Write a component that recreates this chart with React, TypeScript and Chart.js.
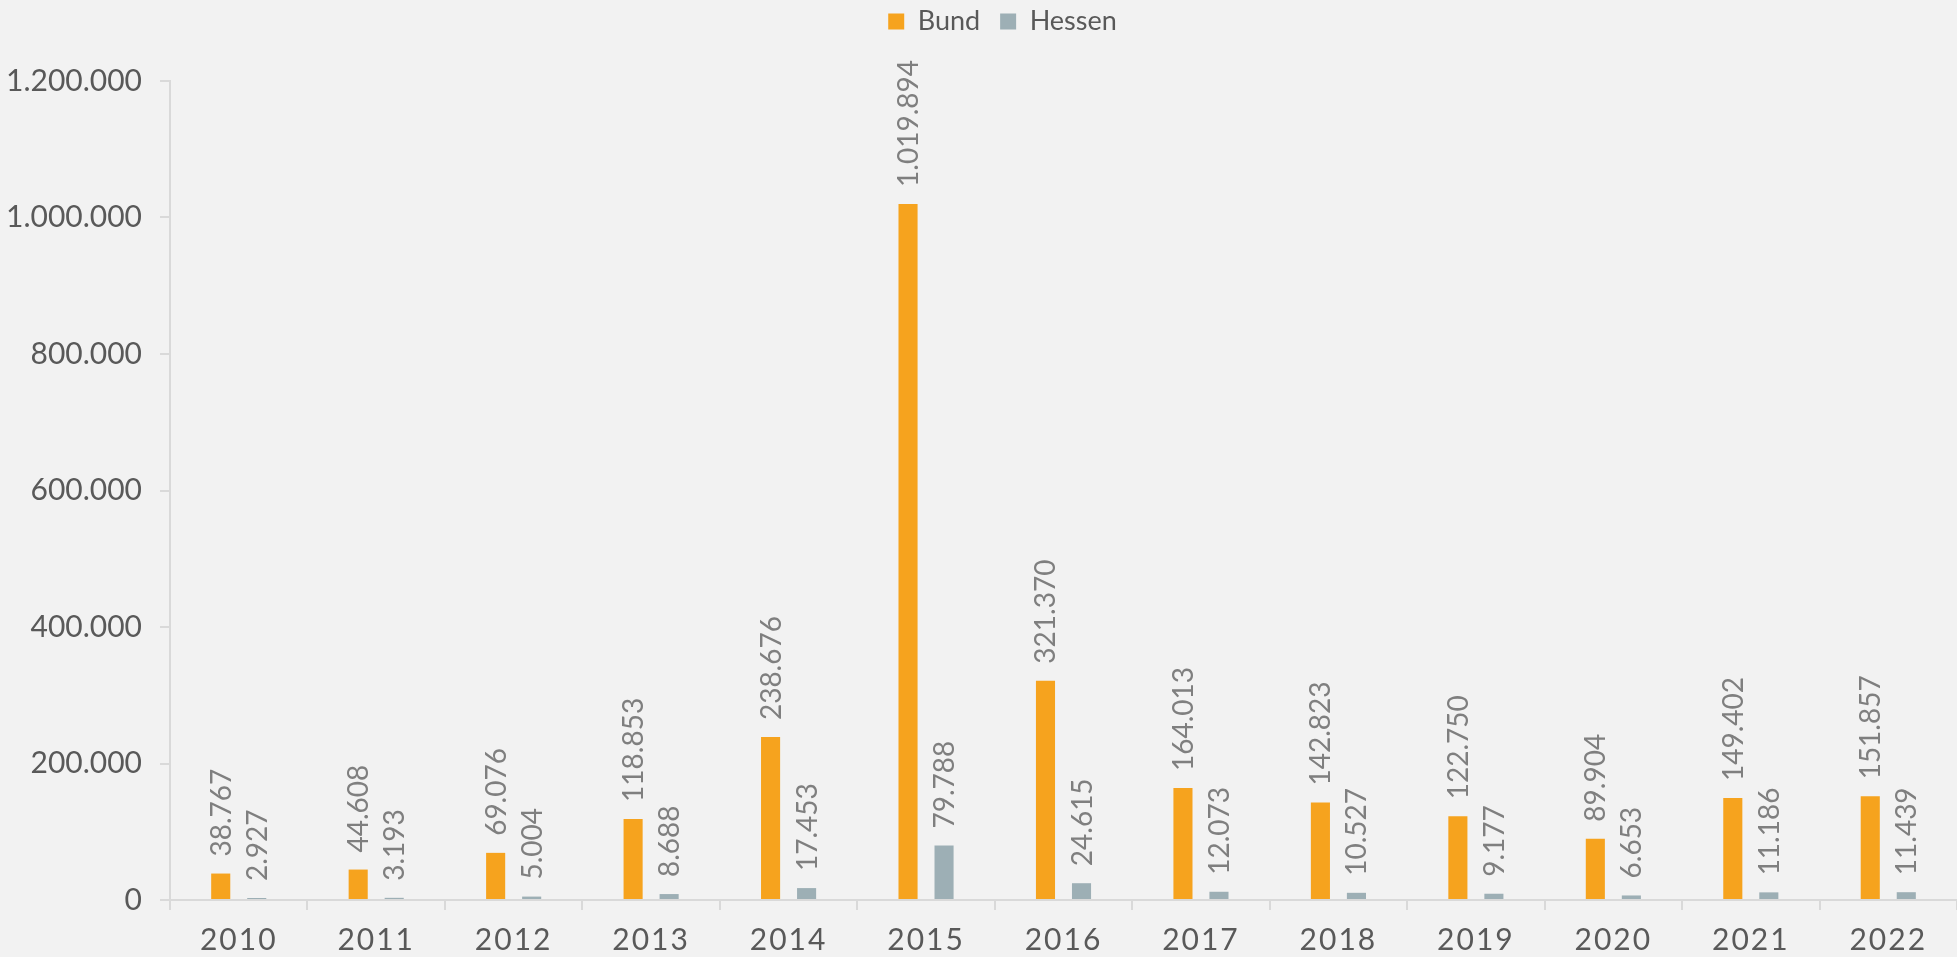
import React, { useEffect, useRef } from 'react';
import { Chart, registerables } from 'chart.js';

Chart.register(...registerables);

const years = ['2010', '2011', '2012', '2013', '2014', '2015', '2016', '2017', '2018', '2019', '2020', '2021', '2022'];
const bund = [38767, 44608, 69076, 118853, 238676, 1019894, 321370, 164013, 142823, 122750, 89904, 149402, 151857];
const hessen = [2927, 3193, 5004, 8688, 17453, 79788, 24615, 12073, 10527, 9177, 6653, 11186, 11439];
const seriesNames = ['Bund', 'Hessen'];
const yMin = 0;
const yMax = 1200000;
const yStep = 200000;

const fmt = (v: number) => String(Math.round(v)).replace(/\B(?=(\d{3})+(?!\d))/g, '.');

const FONT = 'Lato';

const valueLabels = {
  id: 'valueLabels',
  afterDatasetsDraw(chart: any) {
    const ctx = chart.ctx;
    ctx.save();
    ctx.font = `28px ${FONT}`;
    ctx.fillStyle = '#7f7f7f';
    ctx.textAlign = 'left';
    ctx.textBaseline = 'alphabetic';
    chart.data.datasets.forEach((ds: any, di: number) => {
      const meta = chart.getDatasetMeta(di);
      meta.data.forEach((el: any, i: number) => {
        const v = ds.data[i];
        ctx.save();
        ctx.translate(el.x, el.y - 17);
        ctx.rotate(-Math.PI / 2);
        ctx.fillText(fmt(v), 0, 10);
        ctx.restore();
      });
    });
    ctx.restore();
  },
};

const layoutFix = {
  id: 'layoutFix',
  beforeLayout(chart: any) {
    const lg = chart.legend;
    if (lg && !lg.__patched) {
      const orig = lg.fit.bind(lg);
      lg.fit = function () {
        orig();
        this.height = 93;
      };
      lg.__patched = true;
    }
  },
  afterLayout(chart: any) {
    if (chart.legend) {
      chart.legend.left = 40;
    }
    const x = chart.scales.x;
    if (x && !x.__patched) {
      const orig = x.drawLabels.bind(x);
      x.drawLabels = function (area: any) {
        const c = chart.ctx;
        c.save();
        c.letterSpacing = '2px';
        orig(area);
        c.restore();
      };
      x.__patched = true;
    }
  },
};

export default function App() {
  const ref = useRef<HTMLCanvasElement | null>(null);

  useEffect(() => {
    if (!ref.current) return;
    const chart = new Chart(ref.current, {
      type: 'bar',
      data: {
        labels: years,
        datasets: [
          {
            label: seriesNames[0],
            data: bund,
            backgroundColor: '#F6A31E',
            borderWidth: 0,
            categoryPercentage: 0.524,
            barPercentage: 0.53,
          },
          {
            label: seriesNames[1],
            data: hessen,
            backgroundColor: '#9DAFB5',
            borderWidth: 0,
            categoryPercentage: 0.524,
            barPercentage: 0.53,
          },
        ],
      },
      options: {
        animation: false,
        responsive: true,
        maintainAspectRatio: false,
        layout: { padding: { top: -12, left: 0, right: -8, bottom: 0 } },
        plugins: {
          tooltip: { enabled: false },
          legend: {
            position: 'top',
            align: 'center',
            labels: {
              boxWidth: 16,
              boxHeight: 16,
              padding: 20,
              color: '#595959',
              font: { family: FONT, size: 27 },
            },
          },
        },
        scales: {
          x: {
            grid: {
              display: true,
              drawOnChartArea: false,
              drawTicks: true,
              tickLength: 10,
              color: '#d9d9d9',
              lineWidth: 2,
            },
            border: { display: true, color: '#d9d9d9', width: 2 },
            ticks: {
              color: '#595959',
              font: { family: FONT, size: 30 },
              padding: 12,
              maxRotation: 0,
              autoSkip: false,
            },
            afterFit(scale: any) {
              scale.height = 57;
            },
          },
          y: {
            min: yMin,
            max: yMax,
            grid: {
              display: true,
              drawOnChartArea: false,
              drawTicks: true,
              tickLength: 10,
              color: '#d9d9d9',
              lineWidth: 2,
            },
            border: { display: true, color: '#d9d9d9', width: 2 },
            ticks: {
              stepSize: yStep,
              color: '#595959',
              font: { family: FONT, size: 30 },
              padding: 18,
              callback: (v: any) => fmt(Number(v)),
            },
            afterFit(scale: any) {
              scale.width = 170;
            },
          },
        },
      },
      plugins: [valueLabels, layoutFix],
    });
    return () => chart.destroy();
  }, []);

  return (
    <div
      style={{
        position: 'fixed',
        left: 0,
        top: 0,
        width: 1957,
        height: 957,
        background: '#f2f2f2',
      }}
    >
      <canvas ref={ref} style={{ display: 'block' }} />
    </div>
  );
}
